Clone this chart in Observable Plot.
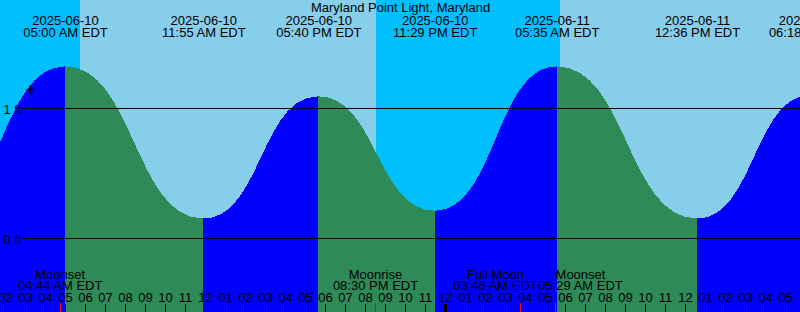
<!DOCTYPE html>
<html>
<head>
<meta charset="utf-8">
<script src="https://cdn.jsdelivr.net/npm/d3@7"></script>
<script src="https://cdn.jsdelivr.net/npm/@observablehq/plot@0.6"></script>
<style>
  html, body { margin: 0; padding: 0; background: #fff; }
  svg { display: block; }
</style>
</head>
<body>
<div id="chart"></div>
<script>
// ---- Data ----
const title = "Maryland Point Light, Maryland";
const windowStart = "2025-06-10 01:45";
const windowEnd = "2025-06-11 17:45";

// Tide extremes (times EDT, levels in ft)
const tideTimes = ["2025-06-09 22:38", "2025-06-10 05:00", "2025-06-10 11:55", "2025-06-10 17:40",
                   "2025-06-10 23:29", "2025-06-11 05:35", "2025-06-11 12:36", "2025-06-11 18:18"];
const tideLevels = [0.20, 1.32, 0.15, 1.09, 0.21, 1.32, 0.15, 1.10];

// Sun events
const sunTimes = ["2025-06-10 05:45", "2025-06-10 20:33", "2025-06-11 05:45"];
const sunKinds = ["Sunrise", "Sunset", "Sunrise"];

// Moon events
const moonTimes = ["2025-06-10 04:44", "2025-06-10 20:30", "2025-06-11 03:46", "2025-06-11 05:29"];
const moonEvents = ["Moonset", "Moonrise", "Full Moon", "Moonset"];

// Reference level lines
const levelLines = [1, 0];
const levelLabels = ["1 ft", "0 ft"];
const levelLineStart = "2025-06-10 02:51";

// Marker "+"
const markTime = "2025-06-10 03:16";
const markLevel = 1.142;

// Colors
const nightColor = "#00BFFF", dayColor = "#87CEEB";
const risingColor = "#0000FF", fallingColor = "#2E8B57";

// ---- Build tables ----
const parse = d3.timeParse("%Y-%m-%d %H:%M");
const fmtDate = d3.timeFormat("%Y-%m-%d");
const fmtTime = d3.timeFormat("%I:%M %p EDT");
const fmtHour = d3.timeFormat("%I");
const t0 = parse(windowStart), t1 = parse(windowEnd);

const tide = tideTimes.map((t, i) => ({t: parse(t), v: tideLevels[i]}));
const segs = [];
for (let i = 0; i < tide.length - 1; i++) {
  const fill = tide[i + 1].v > tide[i].v ? risingColor : fallingColor;
  segs.push({t: tide[i].t, v: tide[i].v, seg: i, fill});
  segs.push({t: tide[i + 1].t, v: tide[i + 1].v, seg: i, fill});
}

const sunDates = sunTimes.map(parse);
const sky = [];
let prevT = t0, prevDay = sunKinds[0] !== "Sunrise";
sunDates.forEach((d, i) => {
  sky.push({x1: prevT, x2: d, fill: prevDay ? dayColor : nightColor});
  prevT = d; prevDay = sunKinds[i] === "Sunrise";
});
sky.push({x1: prevT, x2: t1, fill: prevDay ? dayColor : nightColor});

// moon labels: push apart labels that would collide (XTide style)
const labelW = 85;            // px width of a time label
const pxPerHour = 800 / ((t1 - t0) / 3600000);
const moon = moonTimes.map((t, i) => ({t: parse(t), name: moonEvents[i], lx: parse(t), shift: 0}));
for (let i = 0; i < moon.length - 1; i++) {
  const gapPx = (moon[i + 1].t - moon[i].t) / 3600000 * pxPerHour;
  if (gapPx < labelW) {
    const mid = new Date((+moon[i].t + +moon[i + 1].t) / 2);
    moon[i].lx = mid; moon[i].shift = -labelW / 2;
    moon[i + 1].lx = mid; moon[i + 1].shift = labelW / 2;
  }
}
const moonL = moon.filter(d => d.shift < 0), moonR = moon.filter(d => d.shift > 0), moonC = moon.filter(d => d.shift === 0);
const moonLabelMarks = (data, dx) => [
  Plot.text(data, {x: "lx", dx, frameAnchor: "bottom", dy: -34, text: "name", lineAnchor: "bottom", fill: "black"}),
  Plot.text(data, {x: "lx", dx, frameAnchor: "bottom", dy: -22.5, text: d => fmtTime(d.t), lineAnchor: "bottom", fill: "black"})
];

const hours = d3.timeHour.range(t0, t1);
const font = "'Liberation Sans', Arial, Helvetica, sans-serif";

const chart = Plot.plot({
  width: 800,
  height: 312,
  margin: 0,
  style: {fontFamily: font, fontSize: "13px", background: "none", color: "black"},
  x: {type: "time", domain: [t0, t1], axis: null},
  y: {domain: [-0.5692308, 1.8307692], axis: null},
  color: {type: "identity"},
  marks: [
    Plot.rect(sky, {x1: "x1", x2: "x2", fill: "fill", shapeRendering: "crispEdges"}),
    Plot.areaY(segs, {x: "t", y1: -0.6, y2: "v", z: "seg", fill: "fill", curve: "bump-x", clip: true, shapeRendering: "crispEdges"}),
    Plot.ruleY(levelLines, {y: d => d, x1: parse(levelLineStart), x2: t1, stroke: "black", strokeWidth: 1}),
    Plot.text(levelLines, {x: t0, y: d => d, text: (d, i) => levelLabels[i], textAnchor: "start", dx: 3, dy: 1, lineAnchor: "middle", fill: "black"}),
    Plot.text([markLevel], {x: parse(markTime), y: d => d, text: () => "+", fontSize: 17, lineAnchor: "middle", fill: "black"}),
    // high/low labels at top
    Plot.text(tide, {x: "t", frameAnchor: "top", dy: 24, text: d => fmtDate(d.t), lineAnchor: "bottom", fill: "black"}),
    Plot.text(tide, {x: "t", frameAnchor: "top", dy: 36, text: d => fmtTime(d.t), lineAnchor: "bottom", fill: "black"}),
    Plot.text([title], {frameAnchor: "top", dy: 11.5, text: d => d, lineAnchor: "bottom", fill: "black"}),
    // moon events at bottom
    ...moonLabelMarks(moonC, 0),
    ...moonLabelMarks(moonL, -labelW / 2),
    ...moonLabelMarks(moonR, labelW / 2),
    // hour labels & ticks
    Plot.text(hours, {x: d => d, frameAnchor: "bottom", dy: -10.5, text: d => fmtHour(d), lineAnchor: "bottom", fill: "black"}),
    Plot.ruleX(hours, {x: d => d, insetTop: 304, stroke: "black", strokeWidth: d => d.getHours() === 0 ? 3 : 1, shapeRendering: "crispEdges"}),
    Plot.ruleX(moon, {x: "t", insetTop: 303, stroke: "red", strokeWidth: 1, shapeRendering: "crispEdges"})
  ]
});
document.getElementById("chart").appendChild(chart);
</script>
</body>
</html>
